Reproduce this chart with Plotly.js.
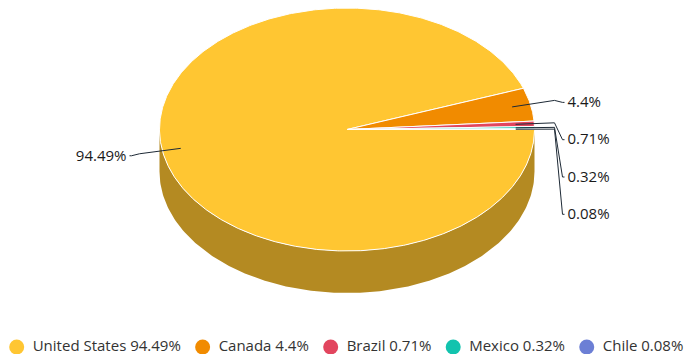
<!DOCTYPE html>
<html>
<head>
<meta charset="utf-8">
<script src="https://cdn.plot.ly/plotly-3.0.1.min.js"></script>
<style>html,body{margin:0;padding:0;background:#fff;}#chart{width:689px;height:354px;}</style>
</head>
<body>
<div id="chart"></div>
<script>
// ---- data ----
const countries = ["United States", "Canada", "Brazil", "Mexico", "Chile"];
const shares = [94.49, 4.4, 0.71, 0.32, 0.08];
const labelTexts = ["94.49%", "4.4%", "0.71%", "0.32%", "0.08%"];

// ---- styling ----
const topColors = ["#ffc632", "#f18b00", "#e2455e", "#12c3ae", "#6c7fd5"];
const sideColors = ["#b48a22", "#a85f00", "#9d2f41", "#0c8879", "#4b5894"];
const FONT = "Open Sans, Noto Sans, sans-serif";

// geometry of the 3D ellipse (pixel space)
const cx = 347, cy = 129.5, rx = 187.5, ry = 121.5, depth = 42;
const W = 689, H = 354;

const total = shares.reduce((a, b) => a + b, 0);
const deg = Math.PI / 180;
function pt(phi, scale, dy) {
  scale = scale === undefined ? 1 : scale;
  dy = dy || 0;
  return [cx + scale * rx * Math.cos(phi * deg), cy + scale * ry * Math.sin(phi * deg) + dy];
}

// slice angles (clockwise on screen, starting at 3 o'clock)
const slices = [];
let acc = 0;
shares.forEach((v, i) => {
  const a0 = acc / total * 360;
  acc += v;
  const a1 = acc / total * 360;
  slices.push({ i, a0, a1, mid: (a0 + a1) / 2 });
});

const traces = [];

// side faces (front half: 0..180 deg on screen)
slices.forEach(s => {
  const lo = Math.max(s.a0, 0), hi = Math.min(s.a1, 180);
  if (hi <= lo) return;
  const xs = [], ys = [];
  const n = Math.max(2, Math.ceil((hi - lo) / 1));
  for (let k = 0; k <= n; k++) { const p = pt(lo + (hi - lo) * k / n); xs.push(p[0]); ys.push(p[1]); }
  for (let k = n; k >= 0; k--) { const p = pt(lo + (hi - lo) * k / n, 1, depth); xs.push(p[0]); ys.push(p[1]); }
  xs.push(xs[0]); ys.push(ys[0]);
  traces.push({ type: "scatter", mode: "lines", x: xs, y: ys, fill: "toself",
    fillcolor: sideColors[s.i], line: { width: 0, color: sideColors[s.i] },
    showlegend: false, hoverinfo: "skip" });
});

// top faces
slices.forEach(s => {
  const xs = [cx], ys = [cy];
  const n = Math.max(2, Math.ceil((s.a1 - s.a0) / 0.5));
  for (let k = 0; k <= n; k++) { const p = pt(s.a0 + (s.a1 - s.a0) * k / n); xs.push(p[0]); ys.push(p[1]); }
  xs.push(cx); ys.push(cy);
  traces.push({ type: "scatter", mode: "lines", x: xs, y: ys, fill: "toself",
    fillcolor: topColors[s.i], line: { width: 1, color: "#ffffff" },
    name: countries[s.i], showlegend: false, hoverinfo: "skip" });
});

// data labels with connectors
const dist = 30, yShift = 3;
const rightLabels = [], leftLabels = [];
slices.forEach(s => {
  const c = Math.cos(s.mid * deg);
  const wantY = cy + (ry + dist * ry / rx) * Math.sin(s.mid * deg);
  const o = { s, wantY, y: wantY + yShift, right: c >= 0 };
  (o.right ? rightLabels : leftLabels).push(o);
});
function spread(list) {
  list.sort((a, b) => a.wantY - b.wantY);
  for (let k = 1; k < list.length; k++) {
    if (list[k].y < list[k - 1].y + 37.3) list[k].y = list[k - 1].y + 37.3;
  }
}
spread(rightLabels); spread(leftLabels);

rightLabels.concat(leftLabels).forEach(o => {
  const inner = pt(o.s.mid, 0.9);
  const sgn = o.right ? 1 : -1;
  const edgeX = cx + sgn * rx;
  const xs = [inner[0], edgeX + sgn * 20, edgeX + sgn * 28, edgeX + sgn * 30];
  const ys = [inner[1], o.wantY, o.y - 1, o.y - 1];
  traces.push({ type: "scatter", mode: "lines", x: xs, y: ys,
    line: { color: "#1e2a36", width: 1 }, showlegend: false, hoverinfo: "skip" });
  traces.push({ type: "scatter", mode: "text", x: [edgeX + sgn * 33], y: [o.y],
    text: [labelTexts[o.s.i]], textposition: o.right ? "middle right" : "middle left",
    textfont: { family: FONT, size: 15, color: "#1a1a1a" },
    showlegend: false, hoverinfo: "skip", cliponaxis: false });
});

// legend (laid out in a row along the bottom, widths measured from SVG text)
const legendFontSize = 15;
const svgNS = "http://www.w3.org/2000/svg";
const msvg = document.createElementNS(svgNS, "svg");
msvg.setAttribute("width", "0"); msvg.setAttribute("height", "0");
msvg.style.position = "absolute";
document.body.appendChild(msvg);
function textWidth(t) {
  const el = document.createElementNS(svgNS, "text");
  el.setAttribute("font-family", FONT);
  el.setAttribute("font-size", legendFontSize);
  el.textContent = t;
  msvg.appendChild(el);
  const w = el.getComputedTextLength();
  msvg.removeChild(el);
  return w;
}
const legendY = 347;
let lx = 16.7;
countries.forEach((c, i) => {
  const txt = c + " " + labelTexts[i];
  traces.push({ type: "scatter", mode: "markers", x: [lx], y: [legendY],
    name: txt, marker: { color: topColors[i], size: 15, symbol: "circle", line: { width: 0 } },
    showlegend: false, hoverinfo: "skip", cliponaxis: false });
  traces.push({ type: "scatter", mode: "text", x: [lx + 16], y: [legendY],
    text: [txt], textposition: "middle right",
    textfont: { family: FONT, size: legendFontSize, color: "#333333" },
    showlegend: false, hoverinfo: "skip", cliponaxis: false });
  lx += 18 + textWidth(txt) + 19.8;
});
document.body.removeChild(msvg);

const layout = {
  width: W, height: H,
  margin: { l: 0, r: 0, t: 0, b: 0, pad: 0 },
  paper_bgcolor: "#ffffff", plot_bgcolor: "#ffffff",
  xaxis: { range: [0, W], visible: false, fixedrange: true },
  yaxis: { range: [H, 0], visible: false, fixedrange: true },
  showlegend: false,
  font: { family: FONT }
};

Plotly.newPlot("chart", traces, layout, { staticPlot: true, displayModeBar: false });
</script>
</body>
</html>
